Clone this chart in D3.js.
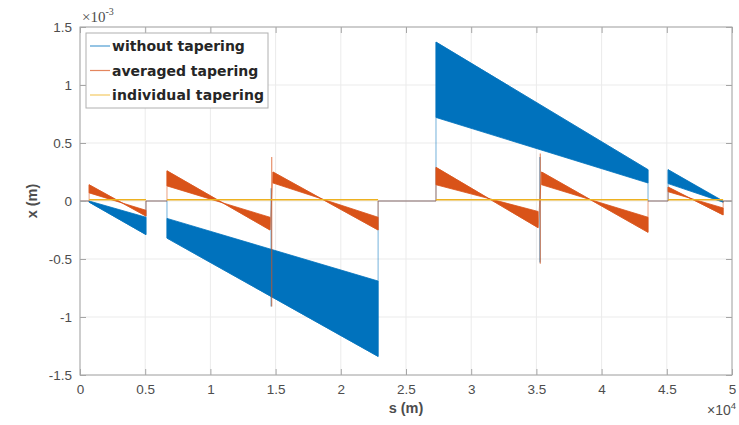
<!DOCTYPE html>
<html>
<head>
<meta charset="utf-8">
<script src="https://cdn.jsdelivr.net/npm/d3@7"></script>
<style>
  body { margin: 0; background: #fff; }
  svg text { fill: #4d4d4d; }
</style>
</head>
<body>
<svg id="chart" width="739" height="425"></svg>
<script>
// Horizontal closed-orbit offset x (in 1e-3 m) along the ring position s (m)

const sTickValues = [0, 5000, 10000, 15000, 20000, 25000, 30000, 35000, 40000, 45000, 50000];
const xTickValues = [-1.5, -1, -0.5, 0, 0.5, 1, 1.5];

// without tapering: each arc is a dense oscillation filling the space between two straight edges
const blueStart  = [700, 6670, 27300, 45100];
const blueEnd    = [5060, 22860, 43560, 49320];
const blueEdgeA0 = [0.0, -0.15, 1.37, 0.27];
const blueEdgeA1 = [-0.14, -0.69, 0.27, 0.0];
const blueEdgeB0 = [-0.01, -0.32, 0.72, 0.15];
const blueEdgeB1 = [-0.29, -1.34, 0.155, -0.01];
const blueSpikeS  = [14660, 35270];
const blueSpikeLo = [-0.91, -0.53];
const blueSpikeHi = [0.11, 0.38];

// averaged tapering
const orangeStart  = [700, 6670, 14800, 27300, 35400, 45100];
const orangeEnd    = [5060, 14570, 22860, 35130, 43560, 49320];
const orangeEdgeA0 = [0.14, 0.26, 0.25, 0.29, 0.25, 0.12];
const orangeEdgeA1 = [-0.13, -0.25, -0.25, -0.23, -0.27, -0.12];
const orangeEdgeB0 = [0.07, 0.13, 0.155, 0.14, 0.14, 0.08];
const orangeEdgeB1 = [-0.08, -0.14, -0.14, -0.09, -0.14, -0.06];
const orangeSpikeS  = [14700, 35300];
const orangeSpikeLo = [-0.91, -0.54];
const orangeSpikeHi = [0.38, 0.41];

// individual tapering
const yellowStart = [700, 6670, 27300, 45100];
const yellowEnd   = [5060, 22860, 43560, 49320];
const yellowLevel = [0.01, 0.01, 0.01, 0.01];

const seriesNames = ["without tapering", "averaged tapering", "individual tapering"];
const seriesColors = ["#0072BD", "#D95319", "#EDB120"];

const margin = { left: 80, right: 7, top: 27, bottom: 50 };
const W = 739, H = 425;
const svg = d3.select("#chart");

const x = d3.scaleLinear().domain([0, 50000]).range([margin.left, W - margin.right]);
const y = d3.scaleLinear().domain([-1.5, 1.5]).range([H - margin.bottom, margin.top]);

const fontTicks = "'Liberation Sans Narrow', 'Liberation Sans', Arial, sans-serif";

// grid
const grid = svg.append("g");
grid.selectAll("line.gx").data(sTickValues).join("line")
  .attr("x1", d => x(d)).attr("x2", d => x(d))
  .attr("y1", y(1.5)).attr("y2", y(-1.5))
  .attr("stroke", "#ebebeb").attr("stroke-width", 1);
grid.selectAll("line.gy").data(xTickValues).join("line")
  .attr("x1", x(0)).attr("x2", x(50000))
  .attr("y1", d => y(d)).attr("y2", d => y(d))
  .attr("stroke", "#ebebeb").attr("stroke-width", 1);

const plot = svg.append("g");

function segs(start, end, a0, a1, b0, b1) {
  return start.map((s, i) => ({ s0: s, s1: end[i], a0: a0[i], a1: a1[i], b0: b0[i], b1: b1[i] }));
}

// Thin trace: flat at zero between arcs, vertical jumps into and out of each arc
function tracePoints(sg) {
  const pts = [[0, 0]];
  let prevEnd = 0;
  sg.forEach((g, i) => {
    const farStart = Math.abs(g.a0) > Math.abs(g.b0) ? g.a0 : g.b0;
    const farEnd = Math.abs(g.a1) > Math.abs(g.b1) ? g.a1 : g.b1;
    if (g.s0 - prevEnd > 500) pts.push([g.s0, 0]);
    pts.push([g.s0, farStart]);
    pts.push([g.s1, farEnd]);
    const next = sg[i + 1];
    if (!next || next.s0 - g.s1 > 500) pts.push([g.s1, 0]);
    prevEnd = g.s1;
  });
  pts.push([50000, 0]);
  return pts;
}

const area = d3.area()
  .x(d => x(d.s)).y0(d => y(d.a)).y1(d => y(d.b));
const line = d3.line().x(d => x(d[0])).y(d => y(d[1]));

function drawSeries(sg, spikeS, spikeLo, spikeHi, color) {
  const g = plot.append("g");
  g.append("path").datum(tracePoints(sg))
    .attr("d", line).attr("fill", "none")
    .attr("stroke", color).attr("stroke-opacity", 0.55).attr("stroke-width", 1);
  g.selectAll("path.band").data(sg).join("path")
    .attr("class", "band")
    .attr("d", d => area([{ s: d.s0, a: d.a0, b: d.b0 }, { s: d.s1, a: d.a1, b: d.b1 }]))
    .attr("fill", color).attr("stroke", color).attr("stroke-width", 0.8);
  g.selectAll("line.spike").data(spikeS).join("line")
    .attr("class", "spike")
    .attr("x1", d => x(d)).attr("x2", d => x(d))
    .attr("y1", (d, i) => y(spikeLo[i])).attr("y2", (d, i) => y(spikeHi[i]))
    .attr("stroke", color).attr("stroke-opacity", 0.6).attr("stroke-width", 1.3);
}

drawSeries(segs(blueStart, blueEnd, blueEdgeA0, blueEdgeA1, blueEdgeB0, blueEdgeB1),
  blueSpikeS, blueSpikeLo, blueSpikeHi, seriesColors[0]);
drawSeries(segs(orangeStart, orangeEnd, orangeEdgeA0, orangeEdgeA1, orangeEdgeB0, orangeEdgeB1),
  orangeSpikeS, orangeSpikeLo, orangeSpikeHi, seriesColors[1]);

plot.selectAll("line.yellow").data(yellowStart).join("line")
  .attr("x1", d => x(d)).attr("x2", (d, i) => x(yellowEnd[i]))
  .attr("y1", (d, i) => y(yellowLevel[i])).attr("y2", (d, i) => y(yellowLevel[i]))
  .attr("stroke", seriesColors[2]).attr("stroke-width", 1.5);

// axes (box with inward ticks on all sides)
const axisColor = "#a6a6a6";
function styleAxis(g) {
  g.select(".domain").remove();
  g.selectAll(".tick line").attr("stroke", axisColor);
  g.selectAll(".tick text").attr("font-family", fontTicks).attr("font-size", 13.5).attr("fill", "#4d4d4d");
}
svg.append("g").attr("transform", `translate(0,${y(-1.5)})`)
  .call(d3.axisBottom(x).tickValues(sTickValues).tickSizeInner(-6).tickSizeOuter(0)
    .tickPadding(9).tickFormat(d => String(d / 1e4)))
  .call(styleAxis);
svg.append("g").attr("transform", `translate(0,${y(1.5)})`)
  .call(d3.axisTop(x).tickValues(sTickValues).tickSizeInner(-6).tickSizeOuter(0).tickFormat(""))
  .call(styleAxis);
svg.append("g").attr("transform", `translate(${x(0)},0)`)
  .call(d3.axisLeft(y).tickValues(xTickValues).tickSizeInner(-6).tickSizeOuter(0)
    .tickPadding(8).tickFormat(d => String(d)))
  .call(styleAxis);
svg.append("g").attr("transform", `translate(${x(50000)},0)`)
  .call(d3.axisRight(y).tickValues(xTickValues).tickSizeInner(-6).tickSizeOuter(0).tickFormat(""))
  .call(styleAxis);
svg.append("rect")
  .attr("x", x(0)).attr("y", y(1.5))
  .attr("width", x(50000) - x(0)).attr("height", y(-1.5) - y(1.5))
  .attr("fill", "none").attr("stroke", axisColor).attr("stroke-width", 1);

// axis labels
svg.append("text").attr("x", (x(0) + x(50000)) / 2).attr("y", 413)
  .attr("text-anchor", "middle").attr("font-family", fontTicks)
  .attr("font-size", 14.5).attr("font-weight", "bold").text("s (m)");
svg.append("text").attr("transform", `translate(37,${y(0)}) rotate(-90)`)
  .attr("text-anchor", "middle").attr("font-family", fontTicks)
  .attr("font-size", 14.5).attr("font-weight", "bold").text("x (m)");

// exponent multipliers
const expY = svg.append("text").attr("x", 82).attr("y", 22)
  .attr("font-family", "'Liberation Serif', serif").attr("font-size", 15);
expY.append("tspan").text("×10");
expY.append("tspan").attr("dy", -7).attr("font-size", 10).text("-3");
const expX = svg.append("text").attr("x", 736).attr("y", 415).attr("text-anchor", "end")
  .attr("font-family", fontTicks).attr("font-size", 14);
expX.append("tspan").text("×10");
expX.append("tspan").attr("dy", -6).attr("font-size", 9.5).text("4");

// legend
const leg = svg.append("g").attr("transform", "translate(86,33)");
leg.append("rect").attr("width", 182).attr("height", 75)
  .attr("fill", "#fff").attr("stroke", "#b0b0b0").attr("stroke-width", 1);
seriesNames.forEach((name, i) => {
  const cy = 13 + i * 24.5;
  leg.append("line").attr("x1", 4).attr("x2", 24).attr("y1", cy).attr("y2", cy)
    .attr("stroke", seriesColors[i]).attr("stroke-opacity", 0.7).attr("stroke-width", 1.2);
  leg.append("text").attr("x", 26).attr("y", cy + 5)
    .attr("font-family", "'DejaVu Sans', sans-serif").attr("font-weight", "bold")
    .attr("font-size", 14).attr("textLength", name.length > 17 ? 152 : null)
    .style("fill", "#262626").text(name);
});
</script>
</body>
</html>
